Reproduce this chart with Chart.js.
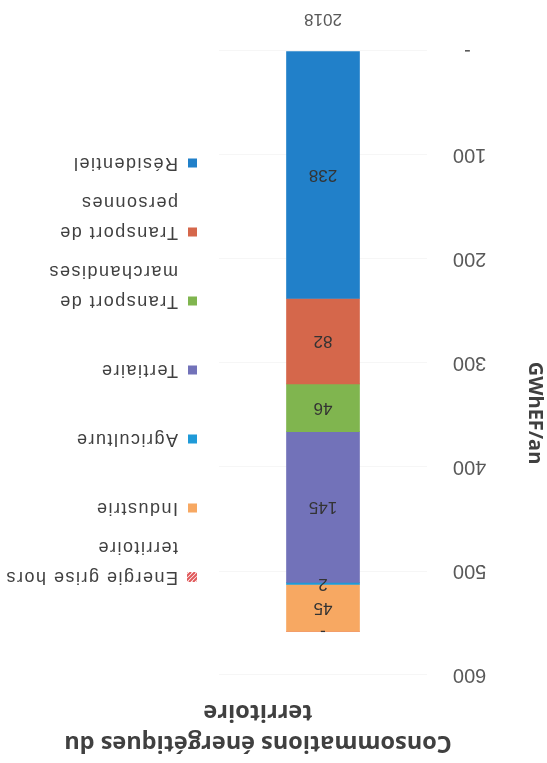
<!DOCTYPE html>
<html>
<head>
<meta charset="utf-8">
<script src="https://cdn.jsdelivr.net/npm/chart.js@4"></script>
<style>
html, body { margin: 0; padding: 0; background: #fff; overflow: hidden; }
/* the reference picture is upside down */
#wrap { width: 547px; height: 763px; transform: rotate(180deg); }
</style>
</head>
<body>
<div id="wrap"><canvas id="chart" width="547" height="763"></canvas></div>
<script>
const years = ['2018'];
const sectors = ['Résidentiel', 'Transport de personnes', 'Transport de marchandises', 'Tertiaire', 'Agriculture', 'Industrie', 'Energie grise hors territoire'];
const values = [238, 82, 46, 145, 2, 45, 0];
const colors = ['#2180c9', '#d5674b', '#80b54f', '#7272b9', '#1f9ad8', '#f7a862', '#e0585a'];
const titleLines = ['Consommations énergétiques du', 'territoire'];
const yTitle = 'GWhEF/an';

const textColor = '#404040';

function wrapText(ctx, text, maxW) {
    let words = text.split(' ');
    let lines = [];
    let cur = '';
    for (let w of words) {
        let test = cur ? cur + ' ' + w : w;
        if (ctx.measureText(test).width > maxW && cur) {
            lines.push(cur);
            cur = w;
        } else {
            cur = test;
        }
    }
    lines.push(cur);
    return lines;
}

const decor = {
    id: 'decor',
    afterDatasetsDraw(chart) {
        const ctx = chart.ctx;
        ctx.save();
        ctx.font = '17px "Liberation Sans"';
        ctx.fillStyle = '#333';
        ctx.textAlign = 'center';
        ctx.textBaseline = 'middle';
        chart.data.datasets.forEach((ds, i) => {
            const el = chart.getDatasetMeta(i).data[0];
            const v = ds.data[0];
            const y = v === 0 ? el.y : (el.y + el.base) / 2;
            ctx.fillText(v === 0 ? '-' : String(v), el.x, y);
        });
        ctx.restore();
    },
    afterDraw(chart) {
        const ctx = chart.ctx;
        ctx.save();

        // title
        ctx.font = 'bold 23.5px "Open Sans"';
        ctx.fillStyle = textColor;
        ctx.textAlign = 'center';
        ctx.textBaseline = 'middle';
        ctx.fillText(titleLines[0], 289, 20);
        ctx.fillText(titleLines[1], 289, 51);

        // y axis title
        ctx.save();
        ctx.translate(12, 350);
        ctx.rotate(-Math.PI / 2);
        ctx.font = 'bold 20px "Open Sans"';
        ctx.fillText(yTitle, 0, 0);
        ctx.restore();

        // legend, top item = last dataset
        ctx.font = '18px "Liberation Sans"';
        ctx.letterSpacing = '1.5px';
        ctx.textAlign = 'left';
        let y = 186;
        for (let i = sectors.length - 1; i >= 0; i--) {
            const lines = wrapText(ctx, sectors[i], 180);
            if (i === sectors.length - 1) {
                // hatched swatch
                ctx.save();
                ctx.beginPath();
                ctx.rect(350, y - 5, 10, 10);
                ctx.clip();
                ctx.strokeStyle = colors[i];
                ctx.lineWidth = 2;
                for (let k = -10; k < 20; k += 4) {
                    ctx.beginPath();
                    ctx.moveTo(350 + k, y + 5);
                    ctx.lineTo(350 + k + 10, y - 5);
                    ctx.stroke();
                }
                ctx.restore();
            } else {
                ctx.fillStyle = colors[i];
                ctx.fillRect(350, y - 4.5, 9, 9);
            }
            ctx.fillStyle = textColor;
            lines.forEach((l, j) => ctx.fillText(l, 369, y + j * 30));
            y += 69;
        }
        ctx.restore();
    }
};

const datasets = sectors.map((name, i) => ({
    label: name,
    data: [values[i]],
    backgroundColor: colors[i],
    borderWidth: 0,
    barThickness: 73
}));

new Chart(document.getElementById('chart'), {
    type: 'bar',
    data: { labels: years, datasets: datasets },
    plugins: [decor],
    options: {
        responsive: false,
        animation: false,
        layout: { padding: { top: 88, right: 219, left: 0, bottom: 0 } },
        plugins: {
            legend: { display: false },
            tooltip: { enabled: false }
        },
        scales: {
            x: {
                stacked: true,
                grid: { display: false },
                border: { display: false },
                ticks: { color: '#595959', font: { size: 17, family: 'Liberation Sans' }, padding: 14 },
                afterFit(scale) { scale.height = 51; }
            },
            y: {
                stacked: true,
                min: 0,
                max: 600,
                grid: { color: 'rgba(0,0,0,0.035)', drawTicks: false },
                border: { display: false },
                ticks: {
                    stepSize: 100,
                    color: '#595959',
                    font: { size: 20, family: 'Liberation Sans' },
                    padding: 26,
                    callback: v => v === 0 ? '-  ' : v
                },
                afterFit(scale) { scale.width = 120; }
            }
        }
    }
});
</script>
</body>
</html>
